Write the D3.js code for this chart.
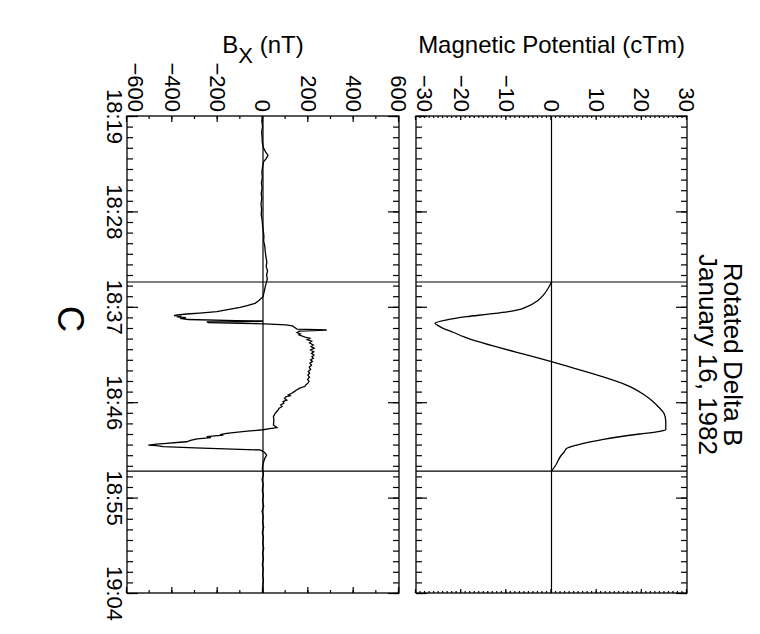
<!DOCTYPE html>
<html>
<head>
<meta charset="utf-8">
<script src="https://cdn.jsdelivr.net/npm/d3@7"></script>
<style>
body { margin: 0; background: #fff; }
text { font-family: "Liberation Sans", Arial, Helvetica, sans-serif; fill: #000; }
</style>
</head>
<body>
<div id="chart"></div>
<script>
// time is in minutes after 18:19
var timeTicks = [0, 9, 18, 27, 36, 45]
var timeLabels = ["18:19", "18:28", "18:37", "18:46", "18:55", "19:04"]
var eventTimes = [15.66, 33.5]

var bxTicks = [-600, -400, -200, 0, 200, 400, 600]
var potTicks = [-30, -20, -10, 0, 10, 20, 30]

// magnetic potential (cTm)
var potTime = [15.66, 16.3, 16.9, 17.4, 18.0, 18.3, 18.46, 18.7, 18.93, 19.25,
    19.56, 19.8, 20.03, 20.4, 20.82, 23.18, 25.53, 26.3, 26.95, 27.5,
    28.05, 28.8, 29.6, 29.75, 30.0, 30.5, 31.04, 31.35, 31.7, 32.1,
    32.9, 33.5]
var potValue = [0, -0.8, -1.8, -3.0, -5.5, -7.5, -9.5, -14.0, -18.8, -23.4,
    -25.8, -25.0, -24.0, -21.8, -19.5, 0, 17.4, 20.5, 22.5, 23.8,
    24.9, 25.3, 25.3, 24.0, 19.5, 11.5, 5.6, 3.4, 2.8, 2.0,
    1.0, 0]

// Bx (nT)
var bxTime = [0, 0.5, 1.0, 1.5, 2.0, 2.5, 3.0, 3.4, 3.7, 4.0,
    4.3, 4.8, 5.3, 5.8, 6.3, 6.8, 7.3, 7.8, 8.3, 8.8,
    9.3, 9.8, 10.3, 10.8, 11.3, 11.8, 12.3, 12.8, 13.3, 13.8,
    14.2, 14.6, 15.0, 15.4, 15.7, 16.1, 16.5,
    17.05, 17.4, 17.67, 17.9, 18.05, 18.25, 18.46, 18.6, 18.68, 18.78,
    18.84, 18.9, 18.95, 19.02, 19.09, 19.15, 19.2, 19.3, 19.34, 19.38,
    19.43, 19.5, 19.55, 19.62, 19.7, 19.8, 19.95, 20.1, 20.19, 20.3,
    20.44, 20.55, 20.65, 20.75, 20.85, 20.97, 21.1, 21.25, 21.4, 21.6,
    21.75, 21.9, 22.08, 22.25, 22.4, 22.55, 22.7, 22.85, 23.0, 23.15,
    23.33, 23.5, 23.7, 23.9, 24.1, 24.27, 24.45, 24.65, 24.85, 25.05,
    25.2, 25.35, 25.5, 25.7, 25.85, 26.0, 26.16, 26.3, 26.4, 26.5,
    26.65, 26.8, 26.95, 27.1, 27.25, 27.4, 27.6, 27.75, 27.9, 28.1,
    28.37, 28.7, 29.15, 29.4, 29.5, 29.6, 29.75, 29.87, 29.95, 30.05,
    30.1, 30.25, 30.35, 30.45, 30.6, 30.73, 30.8, 30.88, 30.95, 31.04,
    31.1, 31.2, 31.3, 31.45, 31.5, 31.7, 31.98, 32.3, 32.8, 33.3,
    33.8, 34.3, 34.8, 35.3, 35.8, 36.3, 36.8, 37.3, 37.8, 38.3,
    38.8, 39.3, 39.8, 40.3, 40.8, 41.3, 41.8, 42.3, 42.8, 43.3,
    43.8, 44.3, 44.8, 45]
var bxValue = [-3, -5, -2, -6, -4, -3, 2, 12, 22, 15,
    3, -2, -5, -3, -7, -4, -8, -5, -9, -6,
    -8, -4, -2, 1, 4, 3, 8, 10, 13, 17,
    14, 20, 16, 19, 15, 10, 6,
    0, -18, -35, -70, -101, -150, -204, -280, -337, -385,
    -392, -360, -380, -340, -366, -344, -330, -120, 0, -10,
    -248, -240, -100, 8, 100, 130, 140, 150, 281, 160,
    150, 165, 158, 171, 185, 207, 195, 215, 205, 222,
    212, 226, 210, 224, 214, 225, 216, 222, 210, 218,
    207, 214, 204, 210, 200, 206, 198, 205, 197, 203,
    198, 190, 185, 160, 148, 138, 127, 112, 120, 100,
    95, 105, 88, 92, 78, 84, 70, 66, 60, 52,
    46, 48, 46, 62, 30, 0, -80, -131, -160, -190,
    -175, -248, -230, -290, -320, -337, -380, -425, -470, -506,
    -470, -440, -300, -101, -13, 5, 16, 8, 0, -3,
    2, -4, 1, -3, 2, -2, 3, -4, 1, -2,
    3, -3, 2, -1, 3, -2, 2, -3, 1, -2,
    2, -1, 1, 0]

var width = 760
var height = 634
var font = "\"Liberation Sans\", Arial, Helvetica, sans-serif"

var svg = d3.select("#chart")
    .append("svg")
    .attr("width", width)
    .attr("height", height)

// the plot is laid out upright and then turned a quarter turn clockwise
var g = svg.append("g")
    .attr("transform", "translate(" + width + ",0) rotate(90)")

var x = d3.scaleLinear().domain([0, 45]).range([116, 593])
var minorTime = d3.range(0, 46, 1)

var panels = [
    { y: d3.scaleLinear().domain([-30, 30]).range([344, 73]), ticks: potTicks, minor: d3.range(-30, 31, 1),
      majLen: 4, minLen: 2, time: potTime, value: potValue, labelTime: false,
      curve: d3.curveMonotoneX },
    { y: d3.scaleLinear().domain([-600, 600]).range([633, 361]), ticks: bxTicks, minor: d3.range(-600, 601, 100),
      majLen: 6, minLen: 3, time: bxTime, value: bxValue, labelTime: true,
      curve: d3.curveLinear }
]

function styleAxis(sel, size) {
    sel.select(".domain").remove()
    sel.selectAll("line").attr("stroke", "#000").attr("stroke-width", 1.2)
    sel.attr("font-size", size).attr("font-family", font)
}

panels.forEach(function (p) {
    var y = p.y
    var top = y.range()[1]
    var bottom = y.range()[0]

    // time axis, bottom and top, ticks pointing in
    g.append("g").attr("transform", "translate(0," + bottom + ")")
        .call(d3.axisBottom(x).tickValues(minorTime).tickSize(-6).tickFormat(""))
        .call(styleAxis, 22)
    g.append("g").attr("transform", "translate(0," + top + ")")
        .call(d3.axisTop(x).tickValues(minorTime).tickSize(-6).tickFormat(""))
        .call(styleAxis, 22)
    g.append("g").attr("transform", "translate(0," + bottom + ")")
        .call(d3.axisBottom(x).tickValues(timeTicks).tickSize(-11).tickPadding(4)
            .tickFormat(function (d, i) { return p.labelTime ? timeLabels[i] : "" }))
        .call(styleAxis, 22)
    g.append("g").attr("transform", "translate(0," + top + ")")
        .call(d3.axisTop(x).tickValues(timeTicks).tickSize(-11).tickFormat(""))
        .call(styleAxis, 22)

    // value axis, left and right
    g.append("g").attr("transform", "translate(116,0)")
        .call(d3.axisLeft(y).tickValues(p.minor).tickSize(-p.minLen).tickFormat(""))
        .call(styleAxis, 22)
    g.append("g").attr("transform", "translate(593,0)")
        .call(d3.axisRight(y).tickValues(p.minor).tickSize(-p.minLen).tickFormat(""))
        .call(styleAxis, 22)
    var ya = g.append("g").attr("transform", "translate(116,0)")
        .call(d3.axisLeft(y).tickValues(p.ticks).tickSize(-p.majLen).tickPadding(4))
        .call(styleAxis, 22)
    // lowest label sits a bit inside the frame
    ya.selectAll(".tick text")
        .filter(function (d) { return d === p.ticks[0] })
        .attr("transform", "translate(0,-9)")
    g.append("g").attr("transform", "translate(593,0)")
        .call(d3.axisRight(y).tickValues(p.ticks).tickSize(-p.majLen).tickFormat(""))
        .call(styleAxis, 22)

    // frame
    g.append("rect")
        .attr("x", 116).attr("y", top)
        .attr("width", 593 - 116).attr("height", bottom - top)
        .attr("fill", "none").attr("stroke", "#000").attr("stroke-width", 1.3)

    // zero line and event markers
    g.append("line")
        .attr("x1", x(0)).attr("x2", x(45))
        .attr("y1", y(0)).attr("y2", y(0))
        .attr("stroke", "#000").attr("stroke-width", 1.2)
    g.selectAll(null).data(eventTimes).enter().append("line")
        .attr("x1", function (d) { return x(d) }).attr("x2", function (d) { return x(d) })
        .attr("y1", top).attr("y2", bottom)
        .attr("stroke", "#000").attr("stroke-width", 1.2)

    var line = d3.line()
        .x(function (d) { return x(p.time[d]) })
        .y(function (d) { return y(p.value[d]) })
        .curve(p.curve)
    g.append("path")
        .attr("d", line(d3.range(p.time.length)))
        .attr("fill", "none").attr("stroke", "#000").attr("stroke-width", 1.3)
})

// axis titles
g.append("text")
    .attr("transform", "translate(53," + (73 + 344) / 2 + ") rotate(-90)")
    .attr("text-anchor", "middle").attr("font-size", 24)
    .text("Magnetic Potential (cTm)")

var bt = g.append("text")
    .attr("transform", "translate(53," + (361 + 633) / 2 + ") rotate(-90)")
    .attr("text-anchor", "middle").attr("font-size", 24)
bt.append("tspan").text("B")
bt.append("tspan").attr("dy", 10).attr("font-size", 22).text("X")
bt.append("tspan").attr("dy", -10).text(" (nT)")

// title
g.append("text").attr("x", 354.5).attr("y", 36)
    .attr("text-anchor", "middle").attr("font-size", 26)
    .text("Rotated Delta B")
g.append("text").attr("x", 354.5).attr("y", 61)
    .attr("text-anchor", "middle").attr("font-size", 26)
    .text("January 16, 1982")

g.append("text").attr("x", 319).attr("y", 702)
    .attr("text-anchor", "middle").attr("font-size", 36)
    .text("C")
</script>
</body>
</html>
